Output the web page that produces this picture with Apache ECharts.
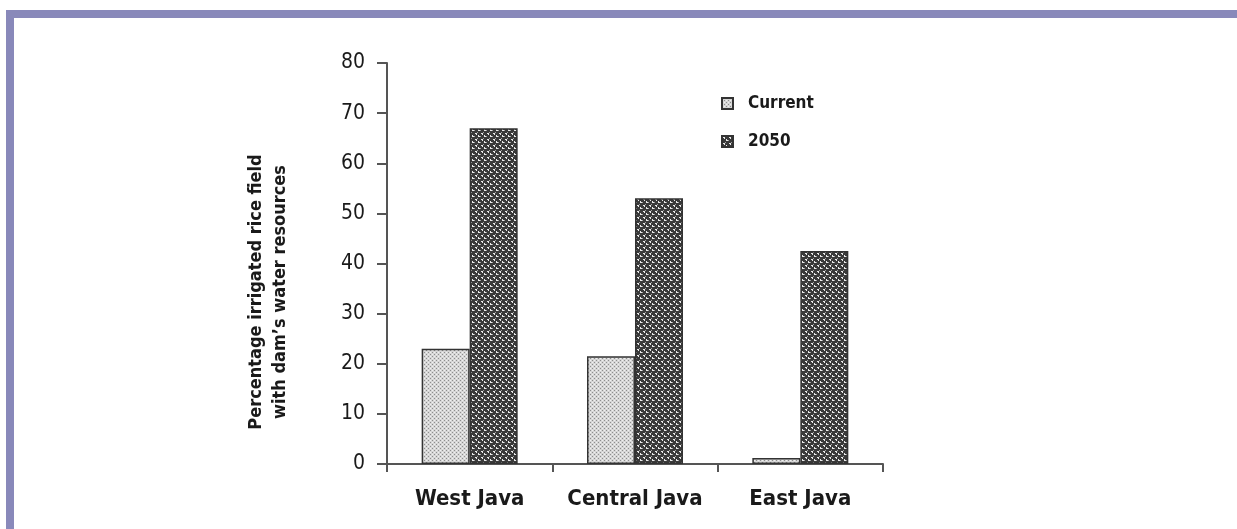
<!DOCTYPE html>
<html>
<head>
<meta charset="utf-8">
<script src="https://cdn.jsdelivr.net/npm/echarts@6/dist/echarts.min.js"></script>
<style>
html,body{margin:0;padding:0;background:#fff;}
#frame{position:absolute;left:0;top:0;width:1237px;height:529px;background:#fff;}
#topbar{position:absolute;left:6px;top:10px;width:1231px;height:8px;background:#8989ba;}
#leftbar{position:absolute;left:6px;top:10px;width:8px;height:519px;background:#8989ba;}
#chart{position:absolute;left:0;top:0;width:1237px;height:529px;}
</style>
</head>
<body>
<div id="frame"><div id="topbar"></div><div id="leftbar"></div></div>
<div id="chart"></div>
<script>
const categories = ['West Java', 'Central Java', 'East Java'];
const currentValues = [23, 21.5, 1.2];
const future2050Values = [67, 53, 42.5];
const seriesNames = ['Current', '2050'];
const yTicks = [0, 10, 20, 30, 40, 50, 60, 70, 80];
const yAxisTitle = ['Percentage irrigated rice field', 'with dam\u2019s water resources'];

function lightPattern() {
  const c = document.createElement('canvas');
  c.width = 4; c.height = 4;
  const g = c.getContext('2d');
  g.fillStyle = '#d6d6d6'; g.fillRect(0, 0, 4, 4);
  g.fillStyle = '#8e8e8e';
  g.fillRect(0, 0, 1, 1); g.fillRect(2, 2, 1, 1);
  g.fillStyle = '#f0f0f0';
  g.fillRect(2, 0, 1, 1); g.fillRect(0, 2, 1, 1);
  return c;
}
function darkPattern() {
  const c = document.createElement('canvas');
  c.width = 6; c.height = 6;
  const g = c.getContext('2d');
  g.fillStyle = '#3a3a3a'; g.fillRect(0, 0, 6, 6);
  g.fillStyle = '#eaeaea';
  g.fillRect(1, 1, 2, 1); g.fillRect(2, 2, 1, 1);
  g.fillRect(4, 4, 2, 1); g.fillRect(4, 3, 1, 1);
  g.fillStyle = '#a0a0a0';
  g.fillRect(0, 4, 1, 1); g.fillRect(3, 0, 1, 1);
  return c;
}

const chart = echarts.init(document.getElementById('chart'), null, {renderer: 'canvas'});
const narrow = '"Liberation Sans Narrow", "DejaVu Sans Condensed", sans-serif';
chart.setOption({
  backgroundColor: 'transparent',
  animation: false,
  grid: {left: 387, right: 354, top: 63, bottom: 65, containLabel: false},
  legend: {
    orient: 'vertical', left: 716, top: 90,
    icon: 'rect',
    itemWidth: 11, itemHeight: 11, itemGap: 21,
    data: seriesNames,
    textStyle: {fontFamily: narrow, fontWeight: 'bold', fontSize: 17, color: '#1a1a1a', padding: [0, 0, 0, 10]}
  },
  graphic: [{
    type: 'text', x: 268, y: 292, rotation: Math.PI / 2,
    style: {
      text: yAxisTitle.join('\n'),
      fontFamily: narrow, fontWeight: 'bold', fontSize: 18, lineHeight: 24,
      fill: '#1a1a1a', align: 'center', verticalAlign: 'middle'
    }
  }],
  xAxis: {
    type: 'category', data: categories,
    axisLine: {lineStyle: {color: '#555', width: 2}},
    axisTick: {show: true, length: 8, interval: 0, lineStyle: {color: '#555', width: 2}},
    axisLabel: {interval: 0, fontFamily: narrow, fontWeight: 'bold', fontSize: 22, color: '#1a1a1a', margin: 24}
  },
  yAxis: {
    type: 'value', min: 0, max: 80, interval: 10,
    splitLine: {show: false},
    axisLine: {show: true, lineStyle: {color: '#555', width: 2}},
    axisTick: {show: true, length: 10, lineStyle: {color: '#555', width: 2}},
    axisLabel: {fontFamily: narrow, fontSize: 21, color: '#1a1a1a', margin: 22,
      formatter: v => yTicks.includes(v) ? String(v) : ''}
  },
  series: [
    {name: seriesNames[0], type: 'bar', data: currentValues, barWidth: 48, barGap: '0%',
     itemStyle: {color: {image: lightPattern(), repeat: 'repeat'}, borderColor: '#333', borderWidth: 1.5}},
    {name: seriesNames[1], type: 'bar', data: future2050Values, barWidth: 48, barGap: '0%',
     itemStyle: {color: {image: darkPattern(), repeat: 'repeat'}, borderColor: '#333', borderWidth: 1.5}}
  ]
});
</script>
</body>
</html>
